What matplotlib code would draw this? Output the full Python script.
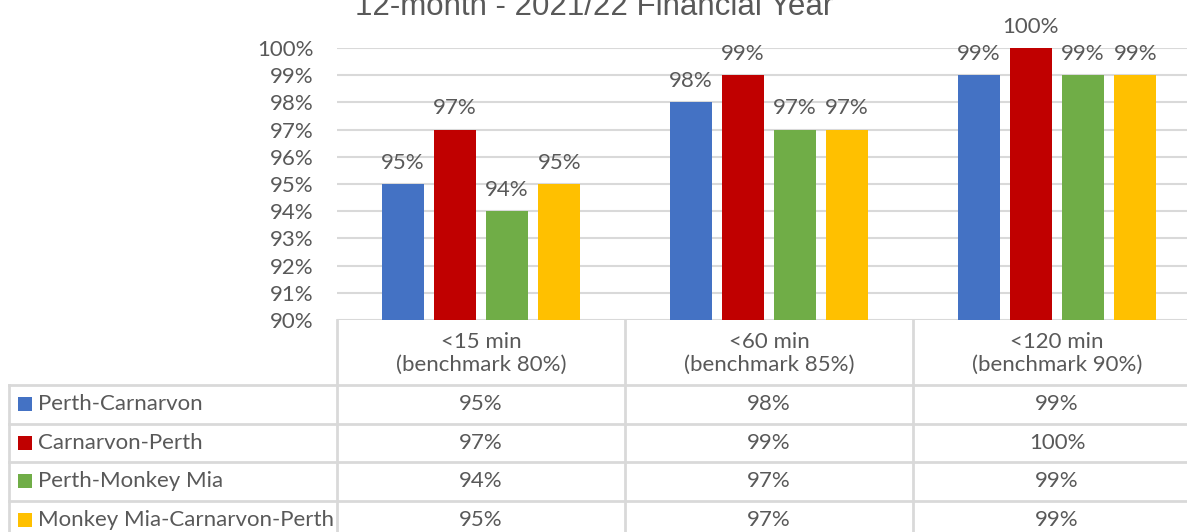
import matplotlib
matplotlib.use("Agg")
import matplotlib.pyplot as plt
import numpy as np

categories = ["<15 min\n(benchmark 80%)", "<60 min\n(benchmark 85%)", "<120 min\n(benchmark 90%)"]
routes = ["Perth-Carnarvon", "Carnarvon-Perth", "Perth-Monkey Mia", "Monkey Mia-Carnarvon-Perth"]
perth_carnarvon = [95, 98, 99]
carnarvon_perth = [97, 99, 100]
perth_monkey_mia = [94, 97, 99]
monkey_mia_carnarvon_perth = [95, 97, 99]
series = [perth_carnarvon, carnarvon_perth, perth_monkey_mia, monkey_mia_carnarvon_perth]
colors = ["#4472C4", "#C00000", "#70AD47", "#FFC000"]
yticks = list(range(90, 101))
title = "12-month - 2021/22 Financial Year"

W, H = 1187, 532
fig = plt.figure(figsize=(W / 100, H / 100), dpi=100)
plt.rcParams['font.family'] = ['Lato', 'DejaVu Sans']
txt = "#595959"
grid = "#D9D9D9"
fs = 16

# pixel layout
x_left, x_right = 337, 1201
y_top, y_bot = 48, 320
unit = (x_right - x_left) / 3.0

ax = fig.add_axes([x_left / W, 1 - y_bot / H, (x_right - x_left) / W, (y_bot - y_top) / H])
ax.set_xlim(-0.5, 2.5)
ax.set_ylim(90, 100)
ax.set_yticks(yticks)
ax.set_yticklabels([f"{t}%" for t in yticks], color=txt, fontsize=fs)
ax.tick_params(axis="y", length=0, pad=17)
ax.set_xticks([])
for s in ax.spines.values():
    s.set_visible(False)
ax.grid(axis="y", color=grid, linewidth=1.5)
ax.set_axisbelow(True)

x = np.arange(len(categories))
spacing = 0.181
width = 0.146
for i, (vals, c) in enumerate(zip(series, colors)):
    pos = x + (i - 1.5) * spacing
    ax.bar(pos, np.array(vals) - 90, bottom=90, width=width, color=c, zorder=3)
    for p, v in zip(pos, vals):
        ax.annotate(f"{v}%", (p, v), xytext=(0, 8), textcoords="offset points",
                    ha="center", va="bottom", color=txt, fontsize=fs, annotation_clip=False)

fig.text(594 / W, 1 - 15 / H, title, ha="center", va="baseline", color=txt,
         fontsize=22.5, family="Liberation Sans")

# data table
t_left = 9
t_bot = 540
tab = fig.add_axes([t_left / W, 1 - t_bot / H, (x_right - t_left) / W, (t_bot - y_bot) / H])
tab.set_xlim(-0.5 - (x_left - t_left) / unit, 2.5)
tab.set_ylim(t_bot, y_bot)
tab.axis("off")
tab.patch.set_alpha(0)

header_bot = 385
row_h = 38.5
row_lines = [header_bot + k * row_h for k in range(len(routes) + 1)]
lx = -0.5 - (x_left - t_left) / unit
for yy in row_lines:
    tab.plot([lx, 2.5], [yy, yy], color=grid, lw=2, clip_on=False)
for xx in [-0.5, 0.5, 1.5, 2.5]:
    tab.plot([xx, xx], [y_bot, t_bot], color=grid, lw=2, clip_on=False)
tab.plot([lx, lx], [header_bot, t_bot], color=grid, lw=2, clip_on=False)

for j, cat in enumerate(categories):
    tab.text(j, (y_bot + header_bot) / 2 + 1, cat, ha="center", va="center",
             color=txt, fontsize=fs, linespacing=1.2)

for r, (name, vals, c) in enumerate(zip(routes, series, colors)):
    yc = header_bot + (r + 0.5) * row_h
    tab.scatter([lx + 16 / unit], [yc], marker="s", s=100, color=c, clip_on=False, linewidths=0)
    tab.text(lx + 29 / unit, yc, name, ha="left", va="center", color=txt, fontsize=fs)
    for j, v in enumerate(vals):
        tab.text(j, yc, f"{v}%", ha="center", va="center", color=txt, fontsize=fs)

fig.savefig("out.png", dpi=100)
